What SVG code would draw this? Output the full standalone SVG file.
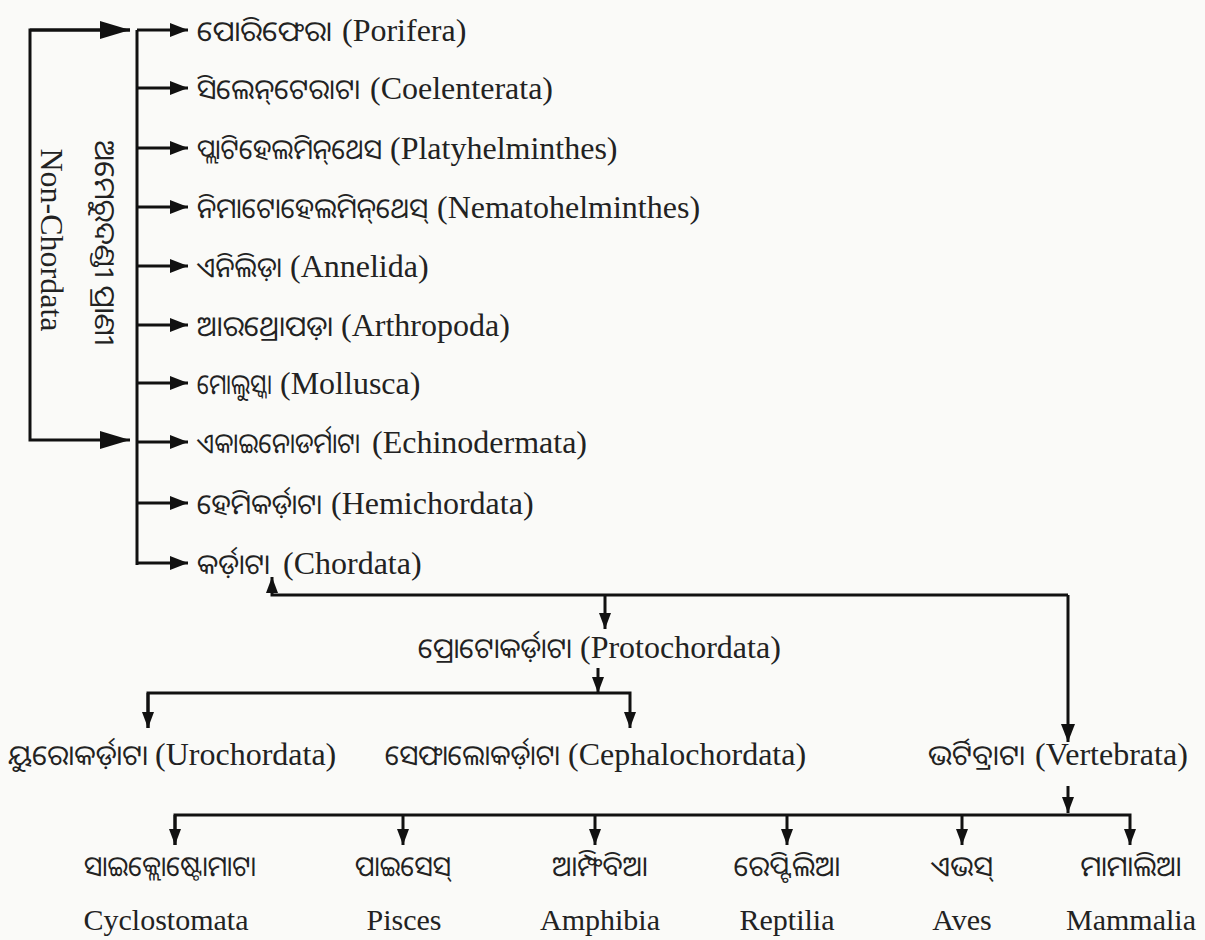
<svg xmlns="http://www.w3.org/2000/svg" width="1205" height="940" viewBox="0 0 1205 940">
<style>
.bg{fill:#fafaf8}
.ln{stroke:#111;stroke-width:3;fill:none}
.t{font-family:"Liberation Serif","Times New Roman",serif;font-size:32px;fill:#222}
.o{font-family:"Noto Sans Oriya","Noto Sans","DejaVu Sans",sans-serif;font-size:28px;fill:#222}
.b{font-family:"Liberation Serif","Times New Roman",serif;font-size:30px;fill:#222;text-anchor:middle}
.ob{font-family:"Noto Sans Oriya","Noto Sans","DejaVu Sans",sans-serif;font-size:28px;fill:#222;text-anchor:middle}
</style>
<defs>
<marker id="ah" markerWidth="18" markerHeight="14" refX="18" refY="7" orient="auto" markerUnits="userSpaceOnUse"><path d="M0,0 L18,7 L0,14 Z" fill="#111"/></marker>
<marker id="big" markerWidth="30" markerHeight="18" refX="30" refY="9" orient="auto" markerUnits="userSpaceOnUse"><path d="M0,0 L30,9 L0,18 Z" fill="#111"/></marker>
<marker id="sm" markerWidth="16" markerHeight="12" refX="16" refY="6" orient="auto" markerUnits="userSpaceOnUse"><path d="M0,0 L16,6 L0,12 Z" fill="#111"/></marker>
</defs>
<rect class="bg" x="0" y="0" width="1205" height="940"/>

<g id="connectors">
<path class="ln" d="M130,30 H30 V440 H130" marker-end="url(#big)"/>
<path class="ln" d="M30,30 H130" marker-end="url(#big)"/>
<path class="ln" d="M137,30 V565"/>
<path class="ln" d="M137,30 H188" marker-end="url(#ah)"/>
<path class="ln" d="M137,88 H188" marker-end="url(#ah)"/>
<path class="ln" d="M137,148 H188" marker-end="url(#ah)"/>
<path class="ln" d="M137,207 H188" marker-end="url(#ah)"/>
<path class="ln" d="M137,266 H188" marker-end="url(#ah)"/>
<path class="ln" d="M137,325 H188" marker-end="url(#ah)"/>
<path class="ln" d="M137,383 H188" marker-end="url(#ah)"/>
<path class="ln" d="M137,442 H188" marker-end="url(#ah)"/>
<path class="ln" d="M137,503 H188" marker-end="url(#ah)"/>
<path class="ln" d="M137,563 H188" marker-end="url(#ah)"/>
<path class="ln" d="M1068,595 H272 V577" marker-end="url(#sm)"/>
<path class="ln" d="M1068,595 V742" marker-end="url(#ah)"/>
<path class="ln" d="M605,595 V629" marker-end="url(#sm)"/>
<path class="ln" d="M598,668 V693" marker-end="url(#sm)"/>
<path class="ln" d="M148,728 V693 H630 V728" marker-end="url(#sm)"/>
<path class="ln" d="M148,693 V728" marker-end="url(#sm)"/>
<path class="ln" d="M1068,786 V813" marker-end="url(#sm)"/>
<path class="ln" d="M175,845 V815 H1130 V845" marker-end="url(#sm)"/>
<path class="ln" d="M175,815 V845" marker-end="url(#sm)"/>
<path class="ln" d="M403,815 V845" marker-end="url(#sm)"/>
<path class="ln" d="M595,815 V845" marker-end="url(#sm)"/>
<path class="ln" d="M787,815 V845" marker-end="url(#sm)"/>
<path class="ln" d="M962,815 V845" marker-end="url(#sm)"/>
</g>

<g id="label-nonchordata"><text class="t" text-anchor="middle" dominant-baseline="central" transform="translate(52,240) rotate(90)">Non-Chordata</text></g>
<g id="label-odia-nonchordata"><text class="o" text-anchor="middle" dominant-baseline="central" textLength="205" lengthAdjust="spacingAndGlyphs" transform="translate(106,243) rotate(90)">ଅମେରୁଦଣ୍ଡୀ ପ୍ରାଣୀ</text></g>

<g id="porifera"><text class="o" x="197" y="41" textLength="135" lengthAdjust="spacingAndGlyphs">ପୋରିଫେରା</text><text class="t" x="342" y="41">(Porifera)</text></g>
<g id="coelenterata"><text class="o" x="197" y="99" textLength="163" lengthAdjust="spacingAndGlyphs">ସିଲେନ୍‌ଟେରାଟା</text><text class="t" x="370" y="99">(Coelenterata)</text></g>
<g id="platyhelminthes"><text class="o" x="197" y="159" textLength="185" lengthAdjust="spacingAndGlyphs">ପ୍ଲାଟିହେଲମିନ୍‌ଥେସ</text><text class="t" x="390" y="159">(Platyhelminthes)</text></g>
<g id="nematohelminthes"><text class="o" x="197" y="218" textLength="231" lengthAdjust="spacingAndGlyphs">ନିମାଟୋହେଲମିନ୍‌ଥେସ୍</text><text class="t" x="437" y="218">(Nematohelminthes)</text></g>
<g id="annelida"><text class="o" x="197" y="277" textLength="85" lengthAdjust="spacingAndGlyphs">ଏନିଲିଡ଼ା</text><text class="t" x="290" y="277">(Annelida)</text></g>
<g id="arthropoda"><text class="o" x="197" y="336" textLength="136" lengthAdjust="spacingAndGlyphs">ଆରଥ୍ରୋପଡ଼ା</text><text class="t" x="341" y="336">(Arthropoda)</text></g>
<g id="mollusca"><text class="o" x="197" y="394" textLength="75" lengthAdjust="spacingAndGlyphs">ମୋଲୁସ୍କା</text><text class="t" x="280" y="394">(Mollusca)</text></g>
<g id="echinodermata"><text class="o" x="197" y="453" textLength="163" lengthAdjust="spacingAndGlyphs">ଏକାଇନୋଡର୍ମାଟା</text><text class="t" x="372" y="453">(Echinodermata)</text></g>
<g id="hemichordata"><text class="o" x="197" y="514" textLength="125" lengthAdjust="spacingAndGlyphs">ହେମିକର୍ଡ଼ାଟା</text><text class="t" x="331" y="514">(Hemichordata)</text></g>
<g id="chordata"><text class="o" x="197" y="574" textLength="73" lengthAdjust="spacingAndGlyphs">କର୍ଡ଼ାଟା</text><text class="t" x="283" y="574">(Chordata)</text></g>

<g id="protochordata"><text class="o" x="418" y="658" textLength="154" lengthAdjust="spacingAndGlyphs">ପ୍ରୋଟୋକର୍ଡ଼ାଟା</text><text class="t" x="580" y="658">(Protochordata)</text></g>
<g id="urochordata"><text class="o" x="8" y="765" textLength="140" lengthAdjust="spacingAndGlyphs">ୟୁରୋକର୍ଡ଼ାଟା</text><text class="t" x="155" y="765">(Urochordata)</text></g>
<g id="cephalochordata"><text class="o" x="385" y="765" textLength="175" lengthAdjust="spacingAndGlyphs">ସେଫାଲୋକର୍ଡ଼ାଟା</text><text class="t" x="568" y="765">(Cephalochordata)</text></g>
<g id="vertebrata"><text class="o" x="928" y="765" textLength="97" lengthAdjust="spacingAndGlyphs">ଭର୍ଟିବ୍ରାଟା</text><text class="t" x="1035" y="765">(Vertebrata)</text></g>

<g id="cyclostomata"><text class="ob" x="170" y="876" textLength="172" lengthAdjust="spacingAndGlyphs">ସାଇକ୍ଲୋଷ୍ଟୋମାଟା</text><text class="b" x="166" y="930">Cyclostomata</text></g>
<g id="pisces"><text class="ob" x="403" y="876" textLength="96" lengthAdjust="spacingAndGlyphs">ପାଇସେସ୍</text><text class="b" x="404" y="930">Pisces</text></g>
<g id="amphibia"><text class="ob" x="600" y="876">ଆମ୍ଫିବିଆ</text><text class="b" x="600" y="930">Amphibia</text></g>
<g id="reptilia"><text class="ob" x="787" y="876">ରେପ୍ଟିଲିଆ</text><text class="b" x="787" y="930">Reptilia</text></g>
<g id="aves"><text class="ob" x="962" y="876">ଏଭସ୍</text><text class="b" x="962" y="930">Aves</text></g>
<g id="mammalia"><text class="ob" x="1131" y="876">ମାମାଲିଆ</text><text class="b" x="1131" y="930">Mammalia</text></g>
</svg>
